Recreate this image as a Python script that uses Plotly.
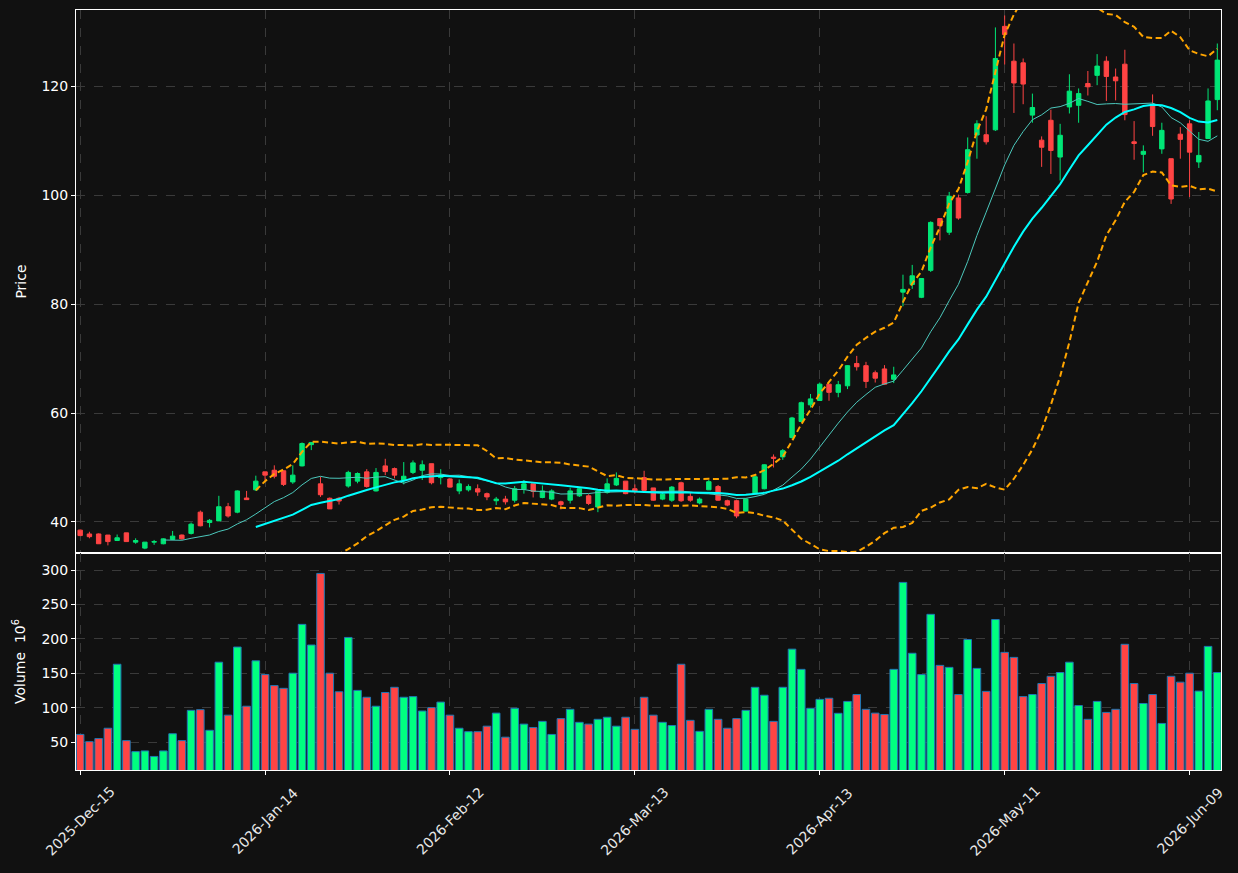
import pandas as pd
import plotly.graph_objects as go

# ---------------- data ----------------
holidays = ["2025-12-25", "2026-01-01", "2026-01-19", "2026-02-16", "2026-04-03", "2026-05-25"]
n_days = 124
dates = pd.bdate_range("2025-12-15", periods=n_days, freq="C", holidays=holidays)

opens = [38.5, 37.8, 37.8, 37.6, 36.6, 38.0, 36.3, 35.2, 36.3, 36.0,
         36.8, 37.6, 37.9, 41.8, 39.9, 40.2, 42.8, 41.8, 44.4, 45.9,
         49.2, 49.5, 49.4, 47.35, 50.3, 54.2, 47.0, 44.35, 44.35, 46.6,
         47.5, 49.2, 45.7, 50.3, 49.8, 47.7, 49.1, 49.5, 50.7, 48.15,
         47.9, 45.7, 45.9, 46.1, 45.2, 43.9, 44.2, 44.0, 46.0, 47.0,
         44.5, 44.2, 43.7, 44.0, 44.8, 44.8, 42.75, 45.4, 46.8, 47.5,
         46.1, 48.15, 46.25, 44.2, 44.0, 47.2, 44.7, 43.5, 45.9, 46.5,
         43.9, 43.9, 42.0, 45.2, 46.1, 51.9, 51.95, 55.5, 58.45, 61.5,
         62.3, 65.3, 63.8, 65.0, 69.1, 68.7, 67.4, 68.1, 66.2, 82.2,
         83.6, 81.25, 86.2, 95.7, 93.2, 99.5, 100.5, 111.05, 111.1, 112.0,
         131.0, 124.6, 124.3, 114.7, 110.1, 113.75, 107.0, 116.2, 116.5, 120.5,
         122.0, 124.6, 121.7, 124.05, 109.8, 107.5, 116.5, 108.5, 106.7, 111.2,
         113.1, 106.1, 110.4, 117.55]
highs = [38.6, 38.2, 37.9, 37.6, 37.7, 38.0, 37.0, 36.3, 36.7, 37.0,
         38.35, 37.7, 39.9, 42.1, 40.55, 44.8, 43.5, 45.8, 45.7, 48.5,
         49.2, 50.4, 49.4, 50.4, 54.6, 54.6, 48.3, 44.5, 44.6, 49.4,
         49.1, 49.7, 49.9, 51.6, 50.0, 51.0, 51.3, 51.3, 50.7, 49.7,
         48.0, 47.8, 46.9, 46.9, 45.4, 44.6, 44.8, 46.6, 47.7, 47.0,
         46.7, 46.0, 43.9, 46.3, 46.4, 45.1, 45.8, 48.0, 49.1, 47.5,
         46.9, 49.4, 46.25, 45.3, 46.6, 47.4, 45.4, 44.5, 47.7, 46.8,
         44.1, 44.1, 44.35, 48.5, 50.6, 52.4, 53.4, 59.3, 62.1, 63.5,
         65.6, 65.3, 65.9, 68.8, 70.5, 69.4, 67.8, 68.8, 68.5, 85.4,
         87.2, 84.7, 95.2, 95.8, 100.6, 100.1, 110.6, 113.75, 114.5, 130.8,
         133.0, 127.85, 125.1, 118.65, 110.8, 115.7, 113.1, 122.2, 119.6, 122.8,
         125.9, 125.5, 123.25, 126.7, 113.6, 109.15, 118.5, 113.3, 106.7, 112.5,
         113.75, 111.6, 119.6, 127.85]
lows = [37.4, 37.0, 36.0, 35.7, 36.5, 36.4, 36.0, 35.0, 35.8, 35.9,
        36.7, 36.75, 37.7, 39.2, 39.0, 40.2, 40.8, 41.6, 44.1, 45.7,
        47.5, 48.0, 46.6, 47.0, 50.2, 53.2, 44.6, 42.4, 43.2, 46.3,
        47.1, 46.3, 45.6, 48.6, 48.0, 46.9, 48.8, 47.7, 46.9, 46.9,
        46.3, 45.1, 45.6, 44.8, 44.0, 43.1, 43.2, 43.55, 45.2, 44.5,
        44.35, 44.0, 42.3, 43.4, 44.6, 43.1, 41.8, 45.2, 46.6, 45.1,
        45.2, 45.7, 43.9, 44.0, 43.7, 43.7, 43.7, 43.25, 45.9, 43.9,
        42.9, 40.7, 41.9, 45.1, 46.0, 50.0, 51.4, 55.3, 58.3, 61.0,
        62.3, 62.25, 62.9, 64.4, 67.8, 64.6, 65.6, 65.2, 65.5, 79.6,
        82.8, 81.1, 85.9, 91.7, 92.7, 95.5, 100.3, 106.7, 109.3, 111.8,
        124.0, 115.1, 116.7, 113.3, 105.2, 103.9, 102.7, 115.0, 113.3, 118.3,
        120.2, 117.3, 117.4, 113.75, 106.5, 104.2, 110.9, 107.6, 98.4, 106.7,
        99.65, 105.0, 110.4, 115.6]
closes = [37.5, 37.3, 36.0, 36.4, 37.1, 36.4, 36.6, 36.3, 36.4, 36.9,
          37.4, 36.9, 39.6, 39.3, 40.3, 42.8, 41.1, 45.7, 44.1, 47.5,
          48.6, 48.4, 46.9, 48.6, 54.4, 54.6, 45.0, 42.4, 43.85, 49.1,
          48.9, 46.5, 49.1, 49.25, 48.6, 48.4, 50.85, 50.5, 47.2, 48.6,
          46.4, 47.0, 46.5, 45.5, 44.6, 44.2, 43.7, 46.1, 47.0, 45.6,
          45.7, 45.7, 43.2, 45.7, 46.1, 43.4, 45.7, 47.0, 48.0, 45.2,
          45.6, 45.8, 44.0, 45.1, 46.4, 43.9, 44.0, 44.2, 47.4, 44.0,
          43.1, 41.1, 44.2, 48.3, 50.5, 51.7, 53.1, 59.1, 61.9, 62.6,
          65.3, 63.8, 65.2, 68.7, 68.5, 65.8, 66.4, 65.3, 67.0, 82.7,
          85.2, 84.7, 95.0, 94.4, 99.8, 95.8, 108.35, 113.1, 109.8, 125.1,
          129.5, 120.6, 120.4, 116.1, 108.8, 108.2, 111.0, 119.1, 118.65, 119.9,
          123.7, 121.8, 121.0, 114.8, 109.5, 108.05, 112.6, 111.9, 99.3, 110.25,
          107.9, 107.3, 117.3, 124.8]
volumes = [61, 50.5, 55, 70, 163, 52, 36, 37, 29, 37,
           62, 52, 96, 97, 67, 166, 89, 188, 102, 168,
           148, 132, 128, 150, 221, 191, 295, 150, 123, 202,
           125, 115, 102, 122, 129.5, 115, 116, 95, 100, 108,
           89, 70, 65, 65, 73, 92, 57, 99, 76, 71,
           80, 61, 84, 97.5, 78.6, 76, 83, 86, 73, 86,
           68.4, 115, 89, 78.6, 74, 163, 81.5, 65.5, 97.5, 83,
           70, 84, 96, 129.5, 118, 80, 129.5, 185, 155.6, 99,
           112, 113.6, 91.7, 109, 119, 97.5, 92, 90, 155.6, 282,
           179, 148, 235.6, 161.4, 158.5, 119, 199, 157, 123.6, 228,
           180.3, 173, 116, 119, 135, 145.5, 151, 166, 103, 83,
           109, 93, 97.5, 192, 135, 106, 119, 77, 145.5, 137,
           150, 124, 189, 151]

tick_step = 20

# ---------------- derived ----------------
x = list(range(len(dates)))
close_s = pd.Series(closes)
ma10 = close_s.rolling(10).mean()
ma20 = close_s.rolling(20).mean()
sd20 = close_s.rolling(20).std(ddof=0)
bb_up = ma20 + 2 * sd20
bb_lo = ma20 - 2 * sd20

UP = "#00e676"
DOWN = "#ff4444"
VUP = "#00ff80"
VDOWN = "#ff4444"
vol_colors = [VUP if c >= o else VDOWN for o, c in zip(opens, closes)]

tickvals = x[::tick_step]
ticktext = [d.strftime("%Y-%b-%d") for d in dates[::tick_step]]

fig = go.Figure()
fig.add_trace(go.Candlestick(
    x=x, open=opens, high=highs, low=lows, close=closes,
    increasing=dict(line=dict(color=UP, width=1), fillcolor=UP),
    decreasing=dict(line=dict(color=DOWN, width=1), fillcolor=DOWN),
    whiskerwidth=0, xaxis="x", yaxis="y", showlegend=False,
))
fig.add_trace(go.Scatter(x=x, y=ma10, mode="lines", line=dict(color="#4cc8bc", width=1),
                         xaxis="x", yaxis="y", showlegend=False))
fig.add_trace(go.Scatter(x=x, y=ma20, mode="lines", line=dict(color="#00ffff", width=2),
                         xaxis="x", yaxis="y", showlegend=False))
fig.add_trace(go.Scatter(x=x, y=bb_up, mode="lines",
                         line=dict(color="#ffa500", width=2, dash="6px,3.5px"),
                         xaxis="x", yaxis="y", showlegend=False))
fig.add_trace(go.Scatter(x=x, y=bb_lo, mode="lines",
                         line=dict(color="#ffa500", width=2, dash="6px,3.5px"),
                         xaxis="x", yaxis="y", showlegend=False))
fig.add_trace(go.Bar(x=x, y=volumes, marker=dict(color=vol_colors, line=dict(color="#1f77b4", width=1)),
                     width=0.82, xaxis="x2", yaxis="y2", showlegend=False))

grid = dict(showgrid=True, gridcolor="#3a3a3a", griddash="dash", gridwidth=1,
            zeroline=False, showline=True, linecolor="#ffffff", linewidth=1, mirror=True)
font14 = dict(family="DejaVu Sans", size=14, color="#ffffff")
lab_font = dict(family="DejaVu Sans", size=14, color="#e8e8e8")
split = 0.2855
xr = [-0.45, 123.4]
plot_h = 873 - 10 - 103

fig.update_layout(
    width=1238, height=873,
    paper_bgcolor="#111111", plot_bgcolor="#111111",
    margin=dict(l=76, r=17, t=10, b=103),
    font=font14,
    boxgap=0.32,
    bargap=0.1,
    xaxis=dict(domain=[0, 1], anchor="y", range=xr, tickvals=tickvals,
               showticklabels=False, ticks="", rangeslider=dict(visible=False), **grid),
    yaxis=dict(domain=[split, 1], anchor="x", range=[34.3, 134.0], tickvals=[40, 60, 80, 100, 120],
               ticks="outside", ticklen=4, tickcolor="#ffffff", tickfont=font14,
               title=dict(text="Price", font=font14, standoff=11), **grid),
    xaxis2=dict(domain=[0, 1], anchor="y2", range=xr, matches="x", tickvals=tickvals,
                showticklabels=False, ticks="outside", ticklen=4, tickcolor="#ffffff", **grid),
    yaxis2=dict(domain=[0, split], anchor="x2", range=[9.3, 324.7],
                tickvals=[50, 100, 150, 200, 250, 300],
                ticks="outside", ticklen=4, tickcolor="#ffffff", tickfont=font14,
                title=dict(text="Volume  10<sup>6</sup>", font=font14, standoff=12), **grid),
)

# rotated date labels centred under their ticks
for tv, tt in zip(tickvals, ticktext):
    fig.add_annotation(x=tv, xref="x2", y=-51 / plot_h, yref="paper", text=tt,
                       textangle=-45, xanchor="center", yanchor="middle",
                       showarrow=False, font=lab_font)

fig.write_html("out.html")
